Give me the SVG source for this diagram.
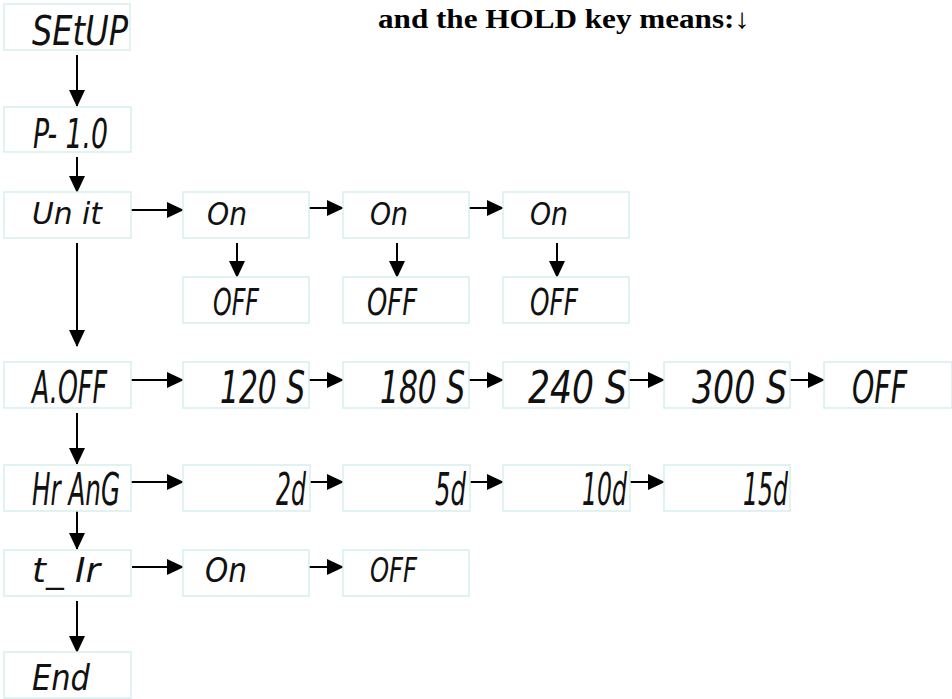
<svg xmlns="http://www.w3.org/2000/svg" width="952" height="699" viewBox="0 0 952 699">
<style>
.box{fill:#ffffff;stroke:#d6eeee;stroke-width:1.5}
.lcd{font-family:"DejaVu Sans Condensed","Liberation Sans Narrow","DejaVu Sans",sans-serif;font-style:oblique;fill:#111;}
.c{stroke:#000;stroke-width:2;fill:none;marker-end:url(#ah)}
.t{font-family:"Liberation Serif","DejaVu Serif",serif;font-weight:bold;font-size:28px;fill:#000}
</style>
<defs>
<marker id="ah" markerUnits="userSpaceOnUse" markerWidth="17" markerHeight="16" refX="16" refY="8" orient="auto">
<path d="M0,0 L17,8 L0,16 z" fill="#000"/>
</marker>
</defs>
<rect width="952" height="699" fill="#fff"/>
<text class="t" x="378" y="28" textLength="372" lengthAdjust="spacingAndGlyphs">and the HOLD key means:↓</text>

<g id="connectors">
<line class="c" x1="77" y1="55" x2="77" y2="106"/>
<line class="c" x1="77" y1="157" x2="77" y2="192"/>
<line class="c" x1="77" y1="243" x2="77" y2="346"/>
<line class="c" x1="77" y1="413" x2="77" y2="464"/>
<line class="c" x1="77" y1="511" x2="77" y2="549"/>
<line class="c" x1="77" y1="601" x2="77" y2="652"/>
<line class="c" x1="131" y1="210" x2="183" y2="210"/>
<line class="c" x1="309" y1="208" x2="343" y2="208"/>
<line class="c" x1="469" y1="208" x2="503" y2="208"/>
<line class="c" x1="237" y1="243" x2="237" y2="277"/>
<line class="c" x1="397" y1="243" x2="397" y2="277"/>
<line class="c" x1="557" y1="243" x2="557" y2="277"/>
<line class="c" x1="131" y1="380" x2="183" y2="380"/>
<line class="c" x1="309" y1="380" x2="343" y2="380"/>
<line class="c" x1="469" y1="380" x2="503" y2="380"/>
<line class="c" x1="629" y1="380" x2="664" y2="380"/>
<line class="c" x1="790" y1="380" x2="824" y2="380"/>
<line class="c" x1="131" y1="482" x2="183" y2="482"/>
<line class="c" x1="310" y1="482" x2="343" y2="482"/>
<line class="c" x1="470" y1="482" x2="503" y2="482"/>
<line class="c" x1="630" y1="482" x2="664" y2="482"/>
<line class="c" x1="132" y1="567" x2="183" y2="567"/>
<line class="c" x1="309" y1="567" x2="343" y2="567"/>
</g>

<g id="setup"><rect class="box" x="4" y="4" width="126" height="46"/><text class="lcd" x="32" y="45" font-size="40" textLength="96" lengthAdjust="spacingAndGlyphs">SEtUP</text></g>
<g id="p10"><rect class="box" x="4" y="107" width="127" height="45"/><text class="lcd" x="33" y="148" font-size="40" textLength="75" lengthAdjust="spacingAndGlyphs">P- 1.0</text></g>
<g id="unit"><rect class="box" x="4" y="192" width="127" height="46"/><text class="lcd" x="32" y="224" font-size="31" textLength="70" lengthAdjust="spacingAndGlyphs">Un it</text></g>
<g id="unit-on1"><rect class="box" x="183" y="192" width="126" height="46"/><text class="lcd" x="207" y="225" font-size="32" textLength="40" lengthAdjust="spacingAndGlyphs">On</text></g>
<g id="unit-on2"><rect class="box" x="343" y="192" width="126" height="46"/><text class="lcd" x="370" y="225" font-size="32" textLength="38" lengthAdjust="spacingAndGlyphs">On</text></g>
<g id="unit-on3"><rect class="box" x="503" y="192" width="126" height="46"/><text class="lcd" x="530" y="225" font-size="32" textLength="38" lengthAdjust="spacingAndGlyphs">On</text></g>
<g id="unit-off1"><rect class="box" x="183" y="277" width="126" height="46"/><text class="lcd" x="213" y="315" font-size="38" textLength="46" lengthAdjust="spacingAndGlyphs">OFF</text></g>
<g id="unit-off2"><rect class="box" x="343" y="277" width="126" height="46"/><text class="lcd" x="367" y="315" font-size="38" textLength="50" lengthAdjust="spacingAndGlyphs">OFF</text></g>
<g id="unit-off3"><rect class="box" x="503" y="277" width="126" height="46"/><text class="lcd" x="530" y="315" font-size="38" textLength="48" lengthAdjust="spacingAndGlyphs">OFF</text></g>

<g id="aoff"><rect class="box" x="4" y="362" width="127" height="46"/><text class="lcd" x="32" y="403" font-size="44" textLength="75" lengthAdjust="spacingAndGlyphs">A.OFF</text></g>
<g id="s120"><rect class="box" x="183" y="362" width="126" height="46"/><text class="lcd" x="220" y="403" font-size="44" textLength="85" lengthAdjust="spacingAndGlyphs">120 S</text></g>
<g id="s180"><rect class="box" x="343" y="362" width="126" height="46"/><text class="lcd" x="380" y="403" font-size="44" textLength="85" lengthAdjust="spacingAndGlyphs">180 S</text></g>
<g id="s240"><rect class="box" x="503" y="362" width="126" height="46"/><text class="lcd" x="528" y="403" font-size="44" textLength="99" lengthAdjust="spacingAndGlyphs">240 S</text></g>
<g id="s300"><rect class="box" x="664" y="362" width="126" height="46"/><text class="lcd" x="692" y="403" font-size="44" textLength="95" lengthAdjust="spacingAndGlyphs">300 S</text></g>
<g id="aoff-off"><rect class="box" x="824" y="362" width="128" height="46"/><text class="lcd" x="852" y="403" font-size="44" textLength="55" lengthAdjust="spacingAndGlyphs">OFF</text></g>

<g id="hrang"><rect class="box" x="4" y="465" width="127" height="46"/><text class="lcd" x="32" y="505" font-size="44" textLength="88" lengthAdjust="spacingAndGlyphs">Hr AnG</text></g>
<g id="d2"><rect class="box" x="183" y="465" width="127" height="46"/><text class="lcd" x="276" y="505" font-size="44" textLength="30" lengthAdjust="spacingAndGlyphs">2d</text></g>
<g id="d5"><rect class="box" x="343" y="465" width="127" height="46"/><text class="lcd" x="435" y="505" font-size="44" textLength="31" lengthAdjust="spacingAndGlyphs">5d</text></g>
<g id="d10"><rect class="box" x="503" y="465" width="127" height="46"/><text class="lcd" x="582" y="505" font-size="44" textLength="45" lengthAdjust="spacingAndGlyphs">10d</text></g>
<g id="d15"><rect class="box" x="664" y="465" width="126" height="46"/><text class="lcd" x="743" y="505" font-size="44" textLength="45" lengthAdjust="spacingAndGlyphs">15d</text></g>

<g id="tir"><rect class="box" x="4" y="550" width="127" height="46"/><text class="lcd" x="32" y="582" font-size="33" textLength="68" lengthAdjust="spacingAndGlyphs">t_ Ir</text></g>
<g id="tir-on"><rect class="box" x="183" y="550" width="126" height="46"/><text class="lcd" x="205" y="582" font-size="33" textLength="42" lengthAdjust="spacingAndGlyphs">On</text></g>
<g id="tir-off"><rect class="box" x="343" y="550" width="126" height="46"/><text class="lcd" x="370" y="582" font-size="33" textLength="47" lengthAdjust="spacingAndGlyphs">OFF</text></g>

<g id="end"><rect class="box" x="4" y="652" width="127" height="46"/><text class="lcd" x="32" y="690" font-size="36" textLength="58" lengthAdjust="spacingAndGlyphs">End</text></g>
</svg>
